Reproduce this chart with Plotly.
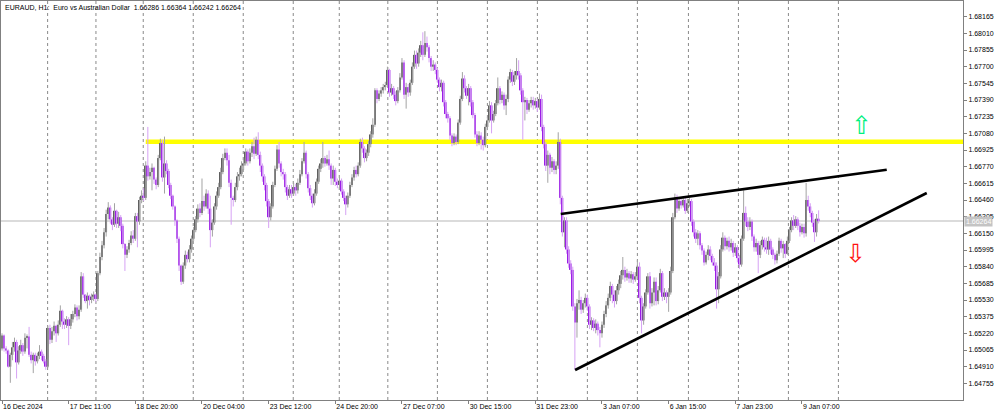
import plotly.graph_objects as go

title_text = "EURAUD, H1:  Euro vs Australian Dollar  1.66286 1.66364 1.66242 1.66264"

first_open = 1.6508
close = [
    1.6520, 1.6508, 1.6506, 1.6491, 1.6502, 1.6509, 1.6514, 1.6495, 1.6506, 1.6511,
    1.6505, 1.6518, 1.6519, 1.6502, 1.6497, 1.6502, 1.6496, 1.6501, 1.6505, 1.6501,
    1.6496, 1.6491, 1.6527, 1.6516, 1.6524, 1.6529, 1.6522, 1.6530, 1.6543, 1.6533,
    1.6530, 1.6535, 1.6529, 1.6535, 1.6540, 1.6546, 1.6538, 1.6544, 1.6575, 1.6558,
    1.6552, 1.6557, 1.6553, 1.6556, 1.6558, 1.6554, 1.6578, 1.6593, 1.6604, 1.6616,
    1.6633, 1.6639, 1.6628, 1.6623, 1.6636, 1.6624, 1.6630, 1.6622, 1.6605, 1.6595,
    1.6600, 1.6606, 1.6613, 1.6610, 1.6631, 1.6626, 1.6646, 1.6650, 1.6648, 1.6678,
    1.6668, 1.6672, 1.6676, 1.6665, 1.6660, 1.6685, 1.6699, 1.6667, 1.6680, 1.6673,
    1.6660, 1.6650, 1.6640, 1.6627, 1.6610, 1.6585, 1.6570, 1.6585, 1.6595, 1.6591,
    1.6600, 1.6610, 1.6618, 1.6628, 1.6638, 1.6634, 1.6645, 1.6640, 1.6652, 1.6638,
    1.6618, 1.6625, 1.6640, 1.6650, 1.6658, 1.6672, 1.6685, 1.6690, 1.6683, 1.6662,
    1.6648, 1.6646, 1.6658, 1.6668, 1.6670, 1.6678, 1.6680, 1.6691, 1.6682, 1.6690,
    1.6696, 1.6689, 1.6702, 1.6688, 1.6678, 1.6668, 1.6660, 1.6645, 1.6630, 1.6640,
    1.6660, 1.6675, 1.6693, 1.6680, 1.6672, 1.6670, 1.6658, 1.6650, 1.6656, 1.6652,
    1.6658, 1.6655, 1.6662, 1.6670, 1.6682, 1.6690, 1.6670, 1.6657, 1.6650, 1.6643,
    1.6652, 1.6663, 1.6675, 1.6680, 1.6685, 1.6680, 1.6684, 1.6678, 1.6666, 1.6674,
    1.6663, 1.6660, 1.6664, 1.6654, 1.6648, 1.6642, 1.6650, 1.6660, 1.6667, 1.6674,
    1.6670, 1.6678, 1.6700, 1.6694, 1.6685, 1.6690, 1.6698, 1.6707, 1.6716, 1.6748,
    1.6740, 1.6745, 1.6748, 1.6751, 1.6753, 1.6767, 1.6746, 1.6750, 1.6744, 1.6738,
    1.6748, 1.6760, 1.6774, 1.6744, 1.6751, 1.6746, 1.6755, 1.6770, 1.6781, 1.6773,
    1.6783, 1.6790, 1.6781, 1.6792, 1.6788, 1.6778, 1.6770, 1.6772, 1.6767, 1.6758,
    1.6751, 1.6755, 1.6737, 1.6726, 1.6722, 1.6706, 1.6699, 1.6705, 1.6700, 1.6718,
    1.6740, 1.6759, 1.6750, 1.6743, 1.6750, 1.6737, 1.6725, 1.6707, 1.6699, 1.6706,
    1.6702, 1.6697, 1.6714, 1.6720, 1.6734, 1.6720, 1.6726, 1.6736, 1.6750, 1.6739,
    1.6744, 1.6734, 1.6740, 1.6758, 1.6765, 1.6756, 1.6762, 1.6766, 1.6762, 1.6748,
    1.6737, 1.6739, 1.6730, 1.6736, 1.6739, 1.6734, 1.6738, 1.6732, 1.6740, 1.6714,
    1.6698, 1.6678, 1.6688, 1.6676, 1.6682, 1.6674, 1.6678, 1.6700, 1.6648, 1.6616,
    1.6627, 1.6600, 1.6587, 1.6581, 1.6547, 1.6532, 1.6550, 1.6553, 1.6544, 1.6550,
    1.6555, 1.6547, 1.6530, 1.6534, 1.6527, 1.6531, 1.6525, 1.6522, 1.6530, 1.6540,
    1.6548, 1.6555, 1.6566, 1.6558, 1.6552, 1.6562, 1.6568, 1.6576, 1.6581, 1.6574,
    1.6578, 1.6573, 1.6577, 1.6572, 1.6575, 1.6584, 1.6555, 1.6534, 1.6547, 1.6560,
    1.6575, 1.6550, 1.6560, 1.6570, 1.6552, 1.6562, 1.6578, 1.6556, 1.6560, 1.6556,
    1.6560, 1.6580, 1.6630, 1.6648, 1.6638, 1.6645, 1.6641, 1.6646, 1.6636, 1.6643,
    1.6645, 1.6626, 1.6616, 1.6610, 1.6615, 1.6604, 1.6599, 1.6588, 1.6595, 1.6600,
    1.6594, 1.6588, 1.6585, 1.6563, 1.6575, 1.6600, 1.6611, 1.6603, 1.6608, 1.6602,
    1.6606, 1.6597, 1.6602, 1.6592, 1.6586, 1.6610, 1.6634, 1.6626, 1.6621, 1.6626,
    1.6612, 1.6602, 1.6606, 1.6595, 1.6604, 1.6609, 1.6602, 1.6600, 1.6608, 1.6600,
    1.6595, 1.6590, 1.6596, 1.6608, 1.6601, 1.6605, 1.6596, 1.6608, 1.6618, 1.6627,
    1.6622, 1.6628, 1.6622, 1.6616, 1.6621, 1.6615, 1.6646, 1.6640, 1.6634, 1.6625,
    1.6616, 1.66286, 1.66264,
]
high = [
    1.6522, 1.6521, 1.6510, 1.6507, 1.6504, 1.6514, 1.6518, 1.6516, 1.6510, 1.6516,
    1.6513, 1.6522, 1.6521, 1.6528, 1.6505, 1.6504, 1.6504, 1.6504, 1.6511, 1.6507,
    1.6503, 1.6498, 1.6529, 1.6530, 1.6528, 1.6533, 1.6530, 1.6534, 1.6548, 1.6544,
    1.6536, 1.6538, 1.6537, 1.6540, 1.6543, 1.6549, 1.6548, 1.6548, 1.6579, 1.6578,
    1.6558, 1.6560, 1.6558, 1.6559, 1.6561, 1.6559, 1.6580, 1.6597, 1.6608, 1.6620,
    1.6637, 1.6644, 1.6641, 1.6630, 1.6643, 1.6637, 1.6635, 1.6632, 1.6624, 1.6606,
    1.6603, 1.6609, 1.6617, 1.6618, 1.6634, 1.6634, 1.6649, 1.6655, 1.6657, 1.6682,
    1.6714, 1.6676, 1.6680, 1.6677, 1.6667, 1.6688, 1.6703, 1.6702, 1.6705, 1.6683,
    1.6675, 1.6662, 1.6651, 1.6641, 1.6628, 1.6612, 1.6586, 1.6588, 1.6599, 1.6598,
    1.6604, 1.6613, 1.6621, 1.6631, 1.6642, 1.6643, 1.6666, 1.6650, 1.6656, 1.6655,
    1.6650, 1.6628, 1.6643, 1.6654, 1.6662, 1.6676, 1.6689, 1.6694, 1.6694, 1.6688,
    1.6665, 1.6650, 1.6662, 1.6672, 1.6676, 1.6682, 1.6685, 1.6694, 1.6693, 1.6694,
    1.6700, 1.6704, 1.6705, 1.6709, 1.6691, 1.6680, 1.6670, 1.6662, 1.6647, 1.6643,
    1.6663, 1.6678, 1.6697, 1.6700, 1.6682, 1.6675, 1.6672, 1.6660, 1.6660, 1.6660,
    1.6662, 1.6661, 1.6666, 1.6674, 1.6685, 1.6700, 1.6692, 1.6672, 1.6660, 1.6652,
    1.6656, 1.6666, 1.6678, 1.6684, 1.6700, 1.6687, 1.6688, 1.6692, 1.6680, 1.6678,
    1.6676, 1.6666, 1.6667, 1.6666, 1.6656, 1.6650, 1.6653, 1.6663, 1.6670, 1.6677,
    1.6678, 1.6681, 1.6703, 1.6704, 1.6696, 1.6693, 1.6701, 1.6710, 1.6722, 1.6750,
    1.6750, 1.6748, 1.6751, 1.6754, 1.6756, 1.6770, 1.6768, 1.6754, 1.6752, 1.6747,
    1.6751, 1.6764, 1.6778, 1.6776, 1.6755, 1.6754, 1.6758, 1.6774, 1.6785, 1.6785,
    1.6787, 1.6794, 1.6802, 1.6803, 1.6798, 1.6790, 1.6780, 1.6776, 1.6774, 1.6769,
    1.6760, 1.6758, 1.6757, 1.6739, 1.6728, 1.6724, 1.6708, 1.6708, 1.6707, 1.6721,
    1.6743, 1.6765, 1.6762, 1.6752, 1.6754, 1.6752, 1.6739, 1.6727, 1.6710, 1.6710,
    1.6709, 1.6705, 1.6717, 1.6723, 1.6738, 1.6737, 1.6729, 1.6739, 1.6760, 1.6752,
    1.6747, 1.6746, 1.6744, 1.6761, 1.6768, 1.6767, 1.6766, 1.6778, 1.6776, 1.6764,
    1.6750, 1.6742, 1.6741, 1.6739, 1.6742, 1.6742, 1.6741, 1.6740, 1.6745, 1.6744,
    1.6716, 1.6700, 1.6692, 1.6690, 1.6686, 1.6684, 1.6682, 1.6709, 1.6703, 1.6650,
    1.6630, 1.6630, 1.6603, 1.6590, 1.6584, 1.6550, 1.6554, 1.6562, 1.6556, 1.6553,
    1.6559, 1.6558, 1.6549, 1.6537, 1.6536, 1.6535, 1.6533, 1.6528, 1.6533, 1.6543,
    1.6552, 1.6559, 1.6570, 1.6568, 1.6562, 1.6566, 1.6572, 1.6580, 1.6593, 1.6584,
    1.6582, 1.6580, 1.6580, 1.6579, 1.6579, 1.6590, 1.6588, 1.6557, 1.6550, 1.6563,
    1.6578, 1.6579, 1.6564, 1.6574, 1.6574, 1.6566, 1.6582, 1.6580, 1.6564, 1.6562,
    1.6564, 1.6584, 1.6634, 1.6652, 1.6651, 1.6648, 1.6647, 1.6649, 1.6648, 1.6647,
    1.6648, 1.6647, 1.6628, 1.6619, 1.6618, 1.6617, 1.6606, 1.6601, 1.6598, 1.6604,
    1.6603, 1.6596, 1.6592, 1.6588, 1.6579, 1.6604, 1.6616, 1.6613, 1.6611, 1.6612,
    1.6610, 1.6608, 1.6606, 1.6604, 1.6595, 1.6613, 1.6655, 1.6640, 1.6630, 1.6630,
    1.6628, 1.6614, 1.6610, 1.6608, 1.6608, 1.6612, 1.6611, 1.6611, 1.6612, 1.6610,
    1.6602, 1.6597, 1.6599, 1.6611, 1.6610, 1.6608, 1.6606, 1.6612, 1.6621, 1.6630,
    1.6632, 1.6631, 1.6630, 1.6625, 1.6624, 1.6624, 1.6662, 1.6650, 1.6643, 1.6636,
    1.6628, 1.6633, 1.66364,
]
low = [
    1.6506, 1.6505, 1.6503, 1.6490, 1.6476, 1.6497, 1.6505, 1.6480, 1.6493, 1.6503,
    1.6501, 1.6503, 1.6508, 1.6500, 1.6494, 1.6485, 1.6492, 1.6494, 1.6498, 1.6497,
    1.6494, 1.6488, 1.6490, 1.6512, 1.6513, 1.6520, 1.6514, 1.6520, 1.6528, 1.6526,
    1.6526, 1.6527, 1.6511, 1.6526, 1.6532, 1.6537, 1.6534, 1.6535, 1.6542, 1.6555,
    1.6550, 1.6545, 1.6548, 1.6550, 1.6552, 1.6551, 1.6552, 1.6576, 1.6590, 1.6601,
    1.6612, 1.6628, 1.6624, 1.6618, 1.6621, 1.6620, 1.6620, 1.6617, 1.6601, 1.6580,
    1.6592, 1.6597, 1.6604, 1.6606, 1.6608, 1.6602, 1.6623, 1.6643, 1.6645, 1.6646,
    1.6664, 1.6665, 1.6655, 1.6661, 1.6656, 1.6658, 1.6683, 1.6663, 1.6652, 1.6670,
    1.6657, 1.6647, 1.6637, 1.6622, 1.6606, 1.6580, 1.6567, 1.6568, 1.6582, 1.6588,
    1.6588, 1.6597, 1.6608, 1.6616, 1.6625, 1.6630, 1.6632, 1.6636, 1.6638, 1.6633,
    1.6602, 1.6612, 1.6623, 1.6637, 1.6648, 1.6656, 1.6670, 1.6683, 1.6678, 1.6658,
    1.6623, 1.6640, 1.6644, 1.6655, 1.6664, 1.6668, 1.6674, 1.6678, 1.6678, 1.6680,
    1.6686, 1.6684, 1.6687, 1.6684, 1.6672, 1.6663, 1.6655, 1.6640, 1.6620, 1.6627,
    1.6638, 1.6658, 1.6673, 1.6676, 1.6668, 1.6665, 1.6653, 1.6646, 1.6648, 1.6648,
    1.6650, 1.6650, 1.6652, 1.6660, 1.6668, 1.6680, 1.6666, 1.6653, 1.6646, 1.6639,
    1.6641, 1.6650, 1.6661, 1.6672, 1.6676, 1.6677, 1.6678, 1.6674, 1.6660, 1.6660,
    1.6659, 1.6657, 1.6657, 1.6651, 1.6645, 1.6632, 1.6639, 1.6648, 1.6658, 1.6664,
    1.6667, 1.6668, 1.6676, 1.6690, 1.6681, 1.6682, 1.6687, 1.6695, 1.6704, 1.6714,
    1.6736, 1.6738, 1.6742, 1.6745, 1.6748, 1.6751, 1.6742, 1.6743, 1.6740, 1.6734,
    1.6736, 1.6746, 1.6758, 1.6740, 1.6731, 1.6742, 1.6743, 1.6753, 1.6768, 1.6768,
    1.6770, 1.6779, 1.6776, 1.6779, 1.6784, 1.6774, 1.6766, 1.6766, 1.6763, 1.6755,
    1.6747, 1.6747, 1.6733, 1.6722, 1.6718, 1.6702, 1.6696, 1.6697, 1.6697, 1.6698,
    1.6716, 1.6738, 1.6746, 1.6740, 1.6734, 1.6733, 1.6722, 1.6704, 1.6696, 1.6697,
    1.6693, 1.6692, 1.6695, 1.6711, 1.6718, 1.6708, 1.6718, 1.6724, 1.6734, 1.6735,
    1.6736, 1.6730, 1.6725, 1.6737, 1.6755, 1.6752, 1.6753, 1.6758, 1.6758, 1.6744,
    1.6702, 1.6720, 1.6726, 1.6728, 1.6732, 1.6730, 1.6731, 1.6728, 1.6730, 1.6710,
    1.6694, 1.6673, 1.6662, 1.6670, 1.6672, 1.6670, 1.6670, 1.6675, 1.6642, 1.6612,
    1.6602, 1.6596, 1.6583, 1.6577, 1.6543, 1.6488, 1.6518, 1.6544, 1.6540, 1.6541,
    1.6546, 1.6543, 1.6526, 1.6525, 1.6524, 1.6522, 1.6520, 1.6509, 1.6518, 1.6527,
    1.6537, 1.6545, 1.6552, 1.6550, 1.6546, 1.6549, 1.6558, 1.6564, 1.6572, 1.6570,
    1.6571, 1.6569, 1.6569, 1.6568, 1.6570, 1.6572, 1.6550, 1.6522, 1.6530, 1.6545,
    1.6558, 1.6545, 1.6547, 1.6548, 1.6548, 1.6549, 1.6560, 1.6552, 1.6553, 1.6550,
    1.6542, 1.6558, 1.6578, 1.6628, 1.6634, 1.6636, 1.6638, 1.6639, 1.6633, 1.6634,
    1.6640, 1.6622, 1.6612, 1.6606, 1.6604, 1.6600, 1.6595, 1.6585, 1.6586, 1.6590,
    1.6590, 1.6585, 1.6580, 1.6545, 1.6550, 1.6573, 1.6598, 1.6599, 1.6600, 1.6598,
    1.6599, 1.6593, 1.6594, 1.6588, 1.6582, 1.6584, 1.6608, 1.6622, 1.6617, 1.6618,
    1.6608, 1.6598, 1.6598, 1.6578, 1.6592, 1.6600, 1.6598, 1.6596, 1.6595, 1.6596,
    1.6591, 1.6586, 1.6587, 1.6594, 1.6597, 1.6592, 1.6592, 1.6595, 1.6606, 1.6616,
    1.6618, 1.6620, 1.6618, 1.6612, 1.6614, 1.6611, 1.6612, 1.6636, 1.6630, 1.6621,
    1.6607, 1.6612, 1.66242,
]

# x-axis labels (bar index of each label) and day separators (bar positions)
date_tick_bars = [0, 32, 64, 96, 128, 160, 192, 224, 256, 288, 320, 352, 384]
date_tick_labels = ["16 Dec 2024", "17 Dec 11:00", "18 Dec 20:00", "20 Dec 04:00",
                    "23 Dec 12:00", "24 Dec 20:00", "27 Dec 07:00", "30 Dec 15:00",
                    "31 Dec 23:00", "3 Jan 07:00", "6 Jan 15:00", "7 Jan 23:00",
                    "9 Jan 07:00"]
day_separator_bars = [21.9, 45.1, 67.8, 91.8, 115.8, 139.8, 161.9, 185.2, 209.0,
                      233.0, 257.0, 281.0, 305.0, 329.5, 353.5, 377.5, 401.5]
price_ticks = [1.64755, 1.64910, 1.65065, 1.65220, 1.65375, 1.65530, 1.65685,
               1.65840, 1.65995, 1.66150, 1.66305, 1.66460, 1.66615, 1.66770,
               1.66925, 1.67080, 1.67235, 1.67390, 1.67545, 1.67700, 1.67855,
               1.68010, 1.68165]

support_level = 1.67002
support_start_bar = 69
upper_trend_bars = [268.2, 424.7]
upper_trend_prices = [1.66330, 1.66742]
lower_trend_bars = [275.1, 443.9]
lower_trend_prices = [1.64879, 1.66525]
last_price = 1.66264
up_arrow_pos = (412.4, 1.67150)
down_arrow_pos = (409.5, 1.65965)

X_RANGE = [-0.48, 461.3]
Y_RANGE = [1.64600, 1.68311]

UP_BODY, UP_WICK = "#5f5f5f", "#a3a3a3"
DN_BODY, DN_WICK = "#9b1de6", "#d6a2f4"

n = min(len(close), len(high), len(low))
close, high, low = close[:n], high[:n], low[:n]
open_ = ([first_open] + close[:-1])[:n]
idx = list(range(n))

fig = go.Figure()

for is_up, body_col, wick_col in [(True, UP_BODY, UP_WICK), (False, DN_BODY, DN_WICK)]:
    wx, wy = [], []
    bx, bbase, bh = [], [], []
    for i in idx:
        o, c, h, l = open_[i], close[i], high[i], low[i]
        if (c >= o) != is_up:
            continue
        lo_b, hi_b = min(o, c), max(o, c)
        wx += [i, i, None]
        wy += [min(l, lo_b), max(h, hi_b), None]
        bx.append(i)
        bbase.append(lo_b)
        bh.append(max(hi_b - lo_b, 0.00004))
    fig.add_trace(go.Scatter(x=wx, y=wy, mode="lines",
                             line=dict(color=wick_col, width=1),
                             hoverinfo="skip", showlegend=False))
    fig.add_trace(go.Bar(x=bx, y=bh, base=bbase, width=0.85,
                         marker=dict(color=body_col, line=dict(width=0)),
                         hoverinfo="skip", showlegend=False))

# trend lines
for bx_, py_ in [(upper_trend_bars, upper_trend_prices), (lower_trend_bars, lower_trend_prices)]:
    fig.add_trace(go.Scatter(x=bx_, y=py_, mode="lines",
                             line=dict(color="black", width=2.6),
                             hoverinfo="skip", showlegend=False))

shapes = []
for d in day_separator_bars:
    shapes.append(dict(type="line", xref="x", yref="paper", x0=d, x1=d, y0=0, y1=1,
                       line=dict(color="#8a8a8a", width=1, dash="dot"), layer="below"))
shapes.append(dict(type="line", xref="paper", yref="y", x0=0, x1=1,
                   y0=last_price, y1=last_price,
                   line=dict(color="#cfcfcf", width=1.5), layer="below"))
shapes.append(dict(type="line", xref="x", yref="y", x0=support_start_bar, x1=X_RANGE[1],
                   y0=support_level, y1=support_level,
                   line=dict(color="#ffff00", width=4.5), layer="below"))

annotations = [
    dict(text=title_text, xref="paper", yref="paper", x=0.002, y=0.997,
         xanchor="left", yanchor="top", showarrow=False,
         font=dict(family="Liberation Sans", size=7, color="black")),
    dict(text=f"{last_price:.5f}", xref="paper", yref="y", x=1.0, y=last_price,
         xanchor="left", yanchor="middle", showarrow=False, xshift=1,
         bgcolor="#c4c4c4", borderpad=1,
         font=dict(family="Liberation Sans", size=7, color="white")),
    dict(text="⇧", xref="x", yref="y", x=up_arrow_pos[0], y=up_arrow_pos[1],
         showarrow=False, font=dict(family="DejaVu Sans", size=25, color="#00f080")),
    dict(text="⇩", xref="x", yref="y", x=down_arrow_pos[0], y=down_arrow_pos[1],
         showarrow=False, font=dict(family="DejaVu Sans", size=25, color="#ff1010")),
]

fig.update_layout(
    width=1000, height=413,
    margin=dict(l=1, r=37, t=1, b=13),
    paper_bgcolor="white", plot_bgcolor="white",
    barmode="overlay", showlegend=False, hovermode=False,
    shapes=shapes, annotations=annotations,
    xaxis=dict(range=X_RANGE, tickmode="array", tickvals=date_tick_bars,
               ticktext=date_tick_labels, ticks="outside", ticklen=3,
               tickcolor="#808080", ticklabelposition="outside right",
               showgrid=False, zeroline=False, showline=True, mirror=True,
               linecolor="#808080", linewidth=1, automargin=False,
               tickfont=dict(family="Liberation Sans", size=7, color="black")),
    yaxis=dict(range=Y_RANGE, side="right", tickmode="array", tickvals=price_ticks,
               ticktext=[f"{p:.5f}" for p in price_ticks], ticks="outside", ticklen=3,
               tickcolor="#808080", showgrid=False, zeroline=False, showline=True,
               mirror=True, linecolor="#808080", linewidth=1, automargin=False,
               tickfont=dict(family="Liberation Sans", size=7, color="black")),
)

fig.write_html("out.html", config={"displayModeBar": False},
               post_script="document.body.style.margin='0';document.body.style.overflow='hidden';")
